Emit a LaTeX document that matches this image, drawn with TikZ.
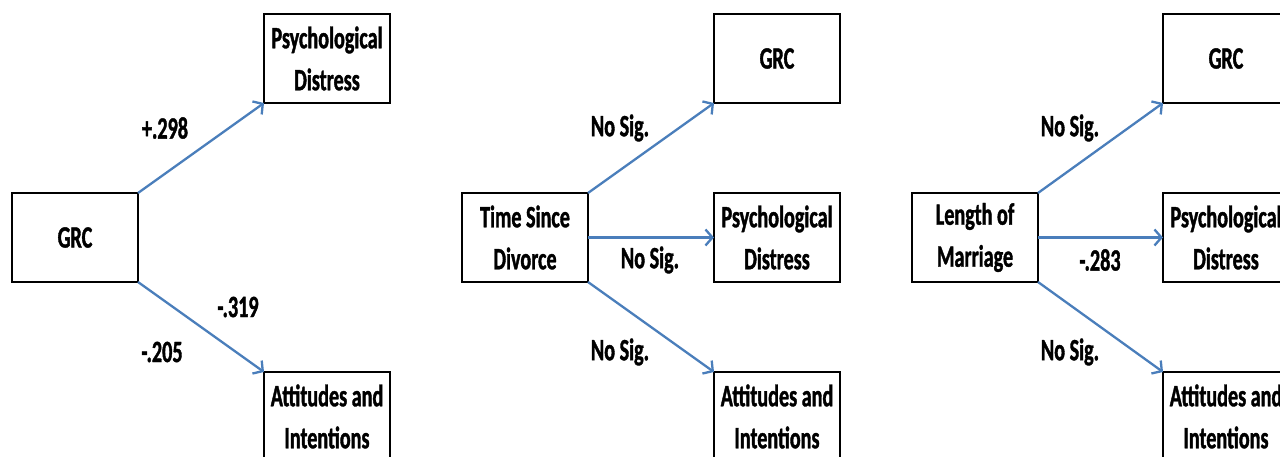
\documentclass[tikz,border=0pt]{standalone}
\usepackage{fontspec}
\usetikzlibrary{arrows.meta}
\newfontfamily\boxfont[FakeStretch=0.65,FakeBold=1.2]{Carlito}
\definecolor{pathblue}{RGB}{74,126,187}
\def\BoxW{126pt}
\def\BoxH{89pt}

\begin{document}
\begin{tikzpicture}[x=1pt,y=1pt,
  box/.style={draw, line width=1.7pt, minimum width=\BoxW, minimum height=\BoxH,
    inner sep=0pt, outer sep=0pt, align=center,
    font=\boxfont\bfseries\fontsize{31}{42}\selectfont},
  effect/.style={draw=pathblue, line width=2.3pt, -{Straight Barb[length=7pt,width=16pt]}},
  coef/.style={inner sep=0pt, font=\boxfont\bfseries\fontsize{31}{42}\selectfont}]
  \useasboundingbox (0,0) rectangle (1280,457);

  % --- Panel 1: GRC ---
  \node[box] (grc) at (75,219.5) {GRC};
  \node[box] (pd1) at (327,398.5) {Psychological\\Distress};
  \node[box] (ai1) at (327,40.5) {Attitudes and\\Intentions};
  \draw[effect] (grc.north east) -- (pd1.south west);
  \draw[effect] (grc.south east) -- (ai1.north west);
  \node[coef] at (165,329) {+.298};
  \node[coef] at (238,150) {-.319};
  \node[coef] at (162,105) {-.205};

  % --- Panel 2: Time Since Divorce ---
  \node[box] (tsd) at (525,219.5) {Time Since\\Divorce};
  \node[box] (grc2) at (777,398.5) {GRC};
  \node[box] (pd2) at (777,219.5) {Psychological\\Distress};
  \node[box] (ai2) at (777,40.5) {Attitudes and\\Intentions};
  \draw[effect] (tsd.north east) -- (grc2.south west);
  \draw[effect] (tsd.east) -- (pd2.west);
  \draw[effect] (tsd.south east) -- (ai2.north west);
  \foreach \x/\y in {620/329, 650/197, 620/105}
  {
    \node[coef] at (\x,\y) {No Sig.};
  }

  % --- Panel 3: Length of Marriage ---
  \node[box] (lom) at (975,219.5) {Length of\\Marriage};
  \node[box] (grc3) at (1226,398.5) {GRC};
  \node[box] (pd3) at (1226,219.5) {Psychological\\Distress};
  \node[box] (ai3) at (1226,40.5) {Attitudes and\\Intentions};
  \draw[effect] (lom.north east) -- (grc3.south west);
  \draw[effect] (lom.east) -- (pd3.west);
  \draw[effect] (lom.south east) -- (ai3.north west);
  \node[coef] at (1070,329) {No Sig.};
  \node[coef] at (1100,197) {-.283};
  \node[coef] at (1070,105) {No Sig.};
\end{tikzpicture}
\end{document}
